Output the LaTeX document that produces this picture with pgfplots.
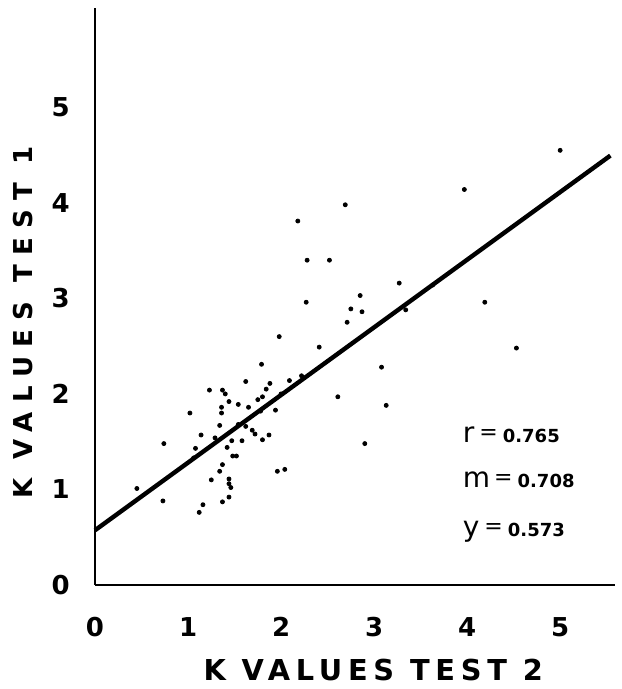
\documentclass[border=0pt]{standalone}
\usepackage{fontspec}
\setmainfont{DejaVu Sans}
\usepackage{pgfplots}
\pgfplotsset{compat=1.18}

\begin{document}
\begin{tikzpicture}
\begin{axis}[
    x=46.5pt, y=47.75pt,
    xmin=0, xmax=5.59,
    ymin=0, ymax=6.04,
    axis lines*=left,
    axis line style={line width=1.4pt},
    xtick={0,...,5},
    ytick={0,...,5},
    major tick length=0pt,
    /pgf/number format/assume math mode=true,
    tick label style={font=\fontsize{13}{15}\selectfont\bfseries, inner sep=0pt},
    xticklabel style={anchor=north, yshift=-16pt},
    yticklabel style={anchor=east, xshift=-12.5pt},
    xlabel={K VALUES TEST 2},
    ylabel={K VALUES TEST 1},
    xlabel style={at={(axis description cs:0.535,-0.147)}, anchor=center,
        font=\fontsize{14.4}{16}\selectfont\bfseries\addfontfeature{LetterSpace=20}},
    ylabel style={at={(axis description cs:-0.139,0.455)}, anchor=center,
        font=\fontsize{13}{15}\selectfont\bfseries\addfontfeature{LetterSpace=36}},
    clip=false,
]

% regression line y = 0.573 + 0.708 x
\addplot[black, line width=2.2pt, no marks] coordinates {
    (0, 0.573) (5.54, 4.495)
};

% individual K values
\addplot[only marks, mark=*, mark size=1pt, black] coordinates {
    (5.00,4.55) (3.97,4.14) (2.69,3.98) (2.18,3.81) (2.28,3.40) (2.52,3.40)
    (3.27,3.16) (2.85,3.03) (2.27,2.96) (2.75,2.89) (2.87,2.86) (3.34,2.88)
    (2.71,2.75) (4.19,2.96) (1.98,2.60) (2.41,2.49) (4.53,2.48) (1.79,2.31)
    (3.08,2.28) (1.62,2.13) (1.88,2.11) (2.09,2.14) (1.84,2.05) (1.23,2.04)
    (1.37,2.04) (1.40,2.00) (1.75,1.94) (1.80,1.97) (1.44,1.92) (1.54,1.89)
    (1.65,1.86) (1.36,1.86) (1.36,1.80) (1.02,1.80) (2.61,1.97) (3.13,1.88)
    (1.94,1.83) (1.34,1.67) (1.62,1.66) (1.69,1.62) (1.72,1.58) (1.14,1.57)
    (1.87,1.57) (1.47,1.51) (1.58,1.51) (1.80,1.52) (1.42,1.44) (1.08,1.43)
    (0.74,1.48) (2.90,1.48) (1.48,1.35) (1.52,1.35) (1.37,1.26) (1.34,1.19)
    (1.96,1.19) (2.04,1.21) (1.25,1.10) (1.44,1.11) (1.44,1.06) (1.46,1.02)
    (0.45,1.01) (0.73,0.88) (1.44,0.92) (1.37,0.87) (1.16,0.84) (1.12,0.76)
    (1.06,1.33) (1.29,1.54) (1.54,1.68) (1.78,1.82) (2.00,2.00) (2.22,2.19)
    (3.63,3.14)
};

% statistics
\node[anchor=base west, inner sep=0pt] at (axis cs:3.95,1.49)
    {{\fontsize{14}{14}\selectfont r}\hspace{2.5pt}{\fontsize{11}{11}\selectfont\raisebox{1.5pt}{=}}\hspace{2.5pt}{\fontsize{9}{9}\selectfont\bfseries 0.765}};
\node[anchor=base west, inner sep=0pt] at (axis cs:3.95,1.02)
    {{\fontsize{14}{14}\selectfont m}\hspace{2pt}{\fontsize{11}{11}\selectfont\raisebox{1.5pt}{=}}\hspace{2.5pt}{\fontsize{9}{9}\selectfont\bfseries 0.708}};
\node[anchor=base west, inner sep=0pt] at (axis cs:3.95,0.51)
    {{\fontsize{14}{14}\selectfont y}\hspace{2.5pt}{\fontsize{11}{11}\selectfont\raisebox{1.5pt}{=}}\hspace{2.5pt}{\fontsize{9}{9}\selectfont\bfseries 0.573}};

\coordinate (O) at (rel axis cs:0,0);
\coordinate (TR) at (rel axis cs:1,1);
\end{axis}
\pgfresetboundingbox
\path[use as bounding box] ([shift={(-47.5pt,-52pt)}]O) rectangle ([shift={(3pt,4pt)}]TR);
\end{tikzpicture}
\end{document}
